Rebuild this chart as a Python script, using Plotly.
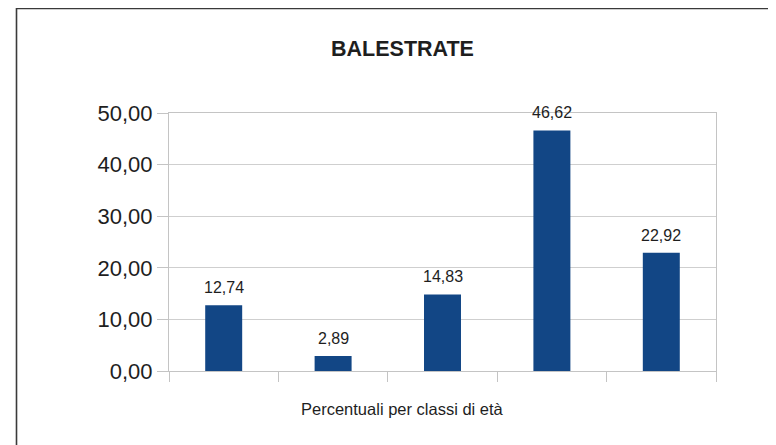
import plotly.graph_objects as go

categories = ["Classe 1", "Classe 2", "Classe 3", "Classe 4", "Classe 5"]
values = [12.74, 2.89, 14.83, 46.62, 22.92]
y_ticks = [0, 10, 20, 30, 40, 50]
title_text = "BALESTRATE"
x_title = "Percentuali per classi di età"

OFF = 8  # default page body margin
W, H = 776 - OFF, 445 - OFF
L, T = 169 - OFF, 113 - OFF
R = W - (716 - OFF)
B = H - (371 - OFF)
pw = W - L - R
ph = H - T - B

def px_x(px):
    return (px - OFF - L) / pw

def px_y(py):
    return (H - B - (py - OFF)) / ph

font_family = "Liberation Sans, Arial, sans-serif"
text_color = "#1e1e1e"

fig = go.Figure()
fig.add_trace(go.Bar(
    x=categories, y=values,
    marker=dict(color="#124685", line=dict(width=0)),
    hoverinfo="skip",
))

for c, v in zip(categories, values):
    fig.add_annotation(
        x=c, y=v, xref="x", yref="y",
        text=f"{v:.2f}".replace(".", ","),
        showarrow=False, yanchor="bottom", yshift=7,
        font=dict(family=font_family, size=16, color=text_color),
    )

fig.add_annotation(
    x=px_x(402.5), y=px_y(409), xref="paper", yref="paper",
    text=x_title, showarrow=False, xanchor="center", yanchor="middle",
    font=dict(family=font_family, size=16.5, color=text_color),
)

fig.add_shape(
    type="rect", xref="paper", yref="paper",
    x0=px_x(16.5), x1=px_x(820), y0=px_y(480), y1=px_y(8.5),
    line=dict(color="#3a3a3a", width=1.6), fillcolor="rgba(0,0,0,0)",
    layer="below",
)

fig.update_layout(
    width=W, height=H,
    margin=dict(l=L, r=R, t=T, b=B, pad=0),
    paper_bgcolor="white", plot_bgcolor="white",
    separators=",.",
    bargap=0.662,
    showlegend=False,
    title=dict(
        text=f"<b>{title_text}</b>",
        x=(402.5 - OFF) / W, xref="container", xanchor="center",
        y=1 - (48.5 - OFF) / H, yref="container", yanchor="middle",
        font=dict(family=font_family, size=21.5, color=text_color),
    ),
    xaxis=dict(
        showticklabels=False,
        ticks="outside", tickson="boundaries", ticklen=10,
        tickcolor="#c4c4c4", tickwidth=1,
        showline=True, linecolor="#c4c4c4", linewidth=1.2, mirror=True,
        showgrid=False, zeroline=False, fixedrange=True,
    ),
    yaxis=dict(
        range=[0, 50], tickvals=y_ticks, tickformat=".2f",
        ticks="outside", ticklen=11, tickcolor="#c4c4c4", tickwidth=1,
        showline=True, linecolor="#c4c4c4", linewidth=1.2, mirror=True,
        showgrid=True, gridcolor="#cfcfcf", gridwidth=1,
        zeroline=False,
        tickfont=dict(family=font_family, size=22, color=text_color),
        fixedrange=True,
    ),
)

fig.write_html("out.html")
